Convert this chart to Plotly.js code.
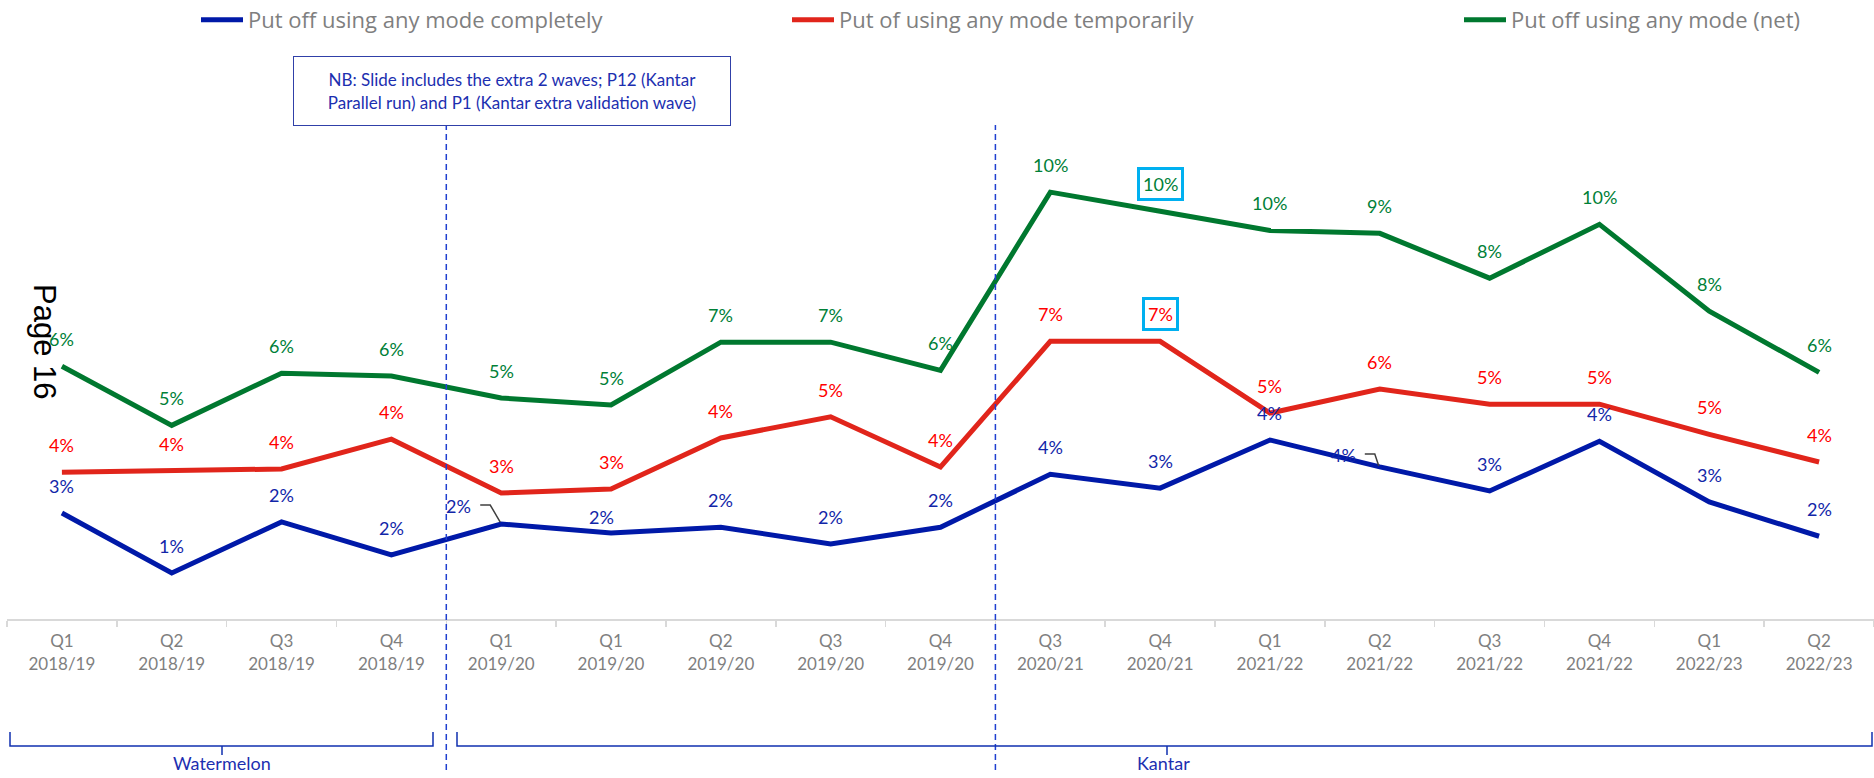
<!DOCTYPE html>
<html>
<head>
<meta charset="utf-8">
<script src="https://cdn.plot.ly/plotly-3.0.1.min.js"></script>
<style>
html,body{margin:0;padding:0;background:#fff;}
#chart{width:1874px;height:778px;}
</style>
</head>
<body>
<div id="chart"></div>
<script>
// ---------- DATA ----------
const quarters = ['Q1','Q2','Q3','Q4','Q1','Q1','Q2','Q3','Q4','Q3','Q4','Q1','Q2','Q3','Q4','Q1','Q2'];
const years = ['2018/19','2018/19','2018/19','2018/19','2019/20','2019/20','2019/20','2019/20','2019/20',
               '2020/21','2020/21','2021/22','2021/22','2021/22','2021/22','2022/23','2022/23'];
const seriesNames = ['Put off using any mode completely','Put of using any mode temporarily','Put off using any mode (net)'];
const completely  = [0.0260,0.0113,0.0238,0.0157,0.0233,0.0211,0.0225,0.0184,0.0225,0.0355,0.0321,0.0439,0.0373,0.0314,0.0436,0.0287,0.0203];
const temporarily = [0.0360,0.0363,0.0368,0.0441,0.0309,0.0319,0.0444,0.0496,0.0373,0.0681,0.0681,0.0505,0.0564,0.0527,0.0527,0.0453,0.0385];
const net         = [0.0620,0.0475,0.0603,0.0596,0.0542,0.0525,0.0679,0.0679,0.0610,0.1047,0.1000,0.0953,0.0946,0.0836,0.0968,0.0755,0.0605];
const groupNames = ['Watermelon','Kantar'];
const noteText = 'NB: Slide includes the extra 2 waves; P12 (Kantar<br>Parallel run) and P1 (Kantar extra validation wave)';
const highlightIndex = 10;

// ---------- STYLE / GEOMETRY ----------
const W = 1874, H = 778;
const M = {l: 7, r: 0, t: 89, b: 159};
const PW = W - M.l - M.r, PH = H - M.t - M.b;
const px2x = px => (px - M.l) / PW;
const py2y = py => (H - M.b - py) / PH;

const lineColors  = ['#0019a8', '#e1251b', '#00782f'];
const labelColors = ['#1226a8', '#ff0000', '#008037'];
const seriesData  = [completely, temporarily, net];
const legendIds   = ['legend', 'legend2', 'legend3'];
const legendX     = [196, 787, 1459];
const annBlue = '#1c2fb0';

const idx = quarters.map((_, i) => i);
const tickText = quarters.map((q, i) => q + '<br>' + years[i]);
const boundaries = idx.map(i => i - 0.5).concat([idx.length - 0.5]);

const traces = seriesData.map((vals, s) => ({
  type: 'scatter', mode: 'lines', x: idx, y: vals, name: seriesNames[s],
  line: {color: lineColors[s], width: 5}, legend: legendIds[s], hoverinfo: 'skip'
}));

// label placement exceptions (pixel offsets)
const overrides = {
  '0-4':  {dx: -43, dy: 18, leader: 'M-21,19 L-11,19 L-1,2'},
  '0-12': {dx: -36, dy: 12, leader: 'M-15,13 L-5,13 L-1,1'},
  '0-5':  {dx: -10, dy: 16}
};

const annotations = [];
const shapes = [];
seriesData.forEach((vals, s) => {
  vals.forEach((v, i) => {
    const o = overrides[s + '-' + i] || {};
    const a = {
      x: i, y: v, xref: 'x', yref: 'y', showarrow: false, xanchor: 'center', yanchor: 'middle',
      text: Math.round(v * 100) + '%',
      xshift: o.dx || 0, yshift: (o.dy !== undefined ? o.dy : 27),
      font: {family: 'Lato', size: 18, color: labelColors[s]}
    };
    if (i === highlightIndex && s > 0) {
      a.bordercolor = '#00b0f0'; a.borderwidth = 3; a.borderpad = 3; a.bgcolor = '#ffffff';
    }
    annotations.push(a);
    if (o.leader) {
      shapes.push({type: 'path', xref: 'x', yref: 'y', xsizemode: 'pixel', ysizemode: 'pixel',
        xanchor: i, yanchor: v, path: o.leader, line: {color: '#404040', width: 1.5}});
    }
  });
});

// note box
annotations.push({xref: 'paper', yref: 'paper', x: px2x(512), y: py2y(90.5), xanchor: 'center', yanchor: 'middle',
  showarrow: false, text: noteText, align: 'center', width: 436, height: 68, borderpad: 0,
  bordercolor: '#3040a8', borderwidth: 1, bgcolor: '#ffffff',
  font: {family: 'Lato', size: 17, color: annBlue}});

// group labels
annotations.push({xref: 'paper', yref: 'paper', x: px2x(222), y: py2y(763), xanchor: 'center', yanchor: 'middle',
  showarrow: false, text: groupNames[0], font: {family: 'Lato', size: 18, color: annBlue}});
annotations.push({xref: 'paper', yref: 'paper', x: px2x(1163), y: py2y(763), xanchor: 'center', yanchor: 'middle',
  showarrow: false, text: groupNames[1], font: {family: 'Lato', size: 18, color: annBlue}});

// page marker
annotations.push({xref: 'paper', yref: 'paper', x: px2x(45), y: py2y(342), xanchor: 'center', yanchor: 'middle',
  showarrow: false, text: 'Page 16', textangle: 90, font: {family: 'Liberation Sans', size: 31, color: '#000000'}});

// divider lines
[3.5, 8.5].forEach(xv => shapes.push({type: 'line', xref: 'x', yref: 'paper', x0: xv, x1: xv,
  y0: py2y(770), y1: py2y(125), line: {color: '#1f3fd0', width: 1.5, dash: '6px,4px'}}));

// brackets
function bracket(xa, xb, xc) {
  const yt = py2y(732), yl = py2y(746), yb = py2y(755);
  return {type: 'path', xref: 'paper', yref: 'paper',
    path: `M${px2x(xa)},${yt} L${px2x(xa)},${yl} L${px2x(xb)},${yl} L${px2x(xb)},${yt} M${px2x(xc)},${yl} L${px2x(xc)},${yb}`,
    line: {color: '#1030b0', width: 1.5}};
}
shapes.push(bracket(10, 433, 222));
shapes.push(bracket(457, 1872, 1167));

const legendBase = {orientation: 'h', xanchor: 'left', yanchor: 'middle', y: py2y(20), itemwidth: 42,
  bgcolor: 'rgba(0,0,0,0)', font: {family: 'Open Sans', size: 22, color: '#7f7f7f'}};

const layout = {
  width: W, height: H,
  margin: {l: M.l, r: M.r, t: M.t, b: M.b, autoexpand: false},
  paper_bgcolor: '#ffffff', plot_bgcolor: '#ffffff',
  font: {family: 'Lato'},
  showlegend: true,
  legend:  Object.assign({}, legendBase, {x: px2x(legendX[0])}),
  legend2: Object.assign({}, legendBase, {x: px2x(legendX[1])}),
  legend3: Object.assign({}, legendBase, {x: px2x(legendX[2])}),
  xaxis: {
    range: [-0.5, idx.length - 0.5], tickmode: 'array', tickvals: idx, ticktext: tickText,
    ticks: '', showline: true, linecolor: '#d9d9d9', linewidth: 2, showgrid: false, zeroline: false,
    tickfont: {family: 'Lato', size: 17, color: '#7f7f7f'}, ticklabelstandoff: 6,
    minor: {tickmode: 'array', tickvals: boundaries, ticks: 'outside', ticklen: 6, tickcolor: '#d9d9d9', tickwidth: 1.5, showgrid: false},
    fixedrange: true
  },
  yaxis: {range: [0, 0.13], visible: false, fixedrange: true},
  annotations: annotations,
  shapes: shapes
};

Plotly.newPlot('chart', traces, layout, {displayModeBar: false, staticPlot: true});
</script>
</body>
</html>
